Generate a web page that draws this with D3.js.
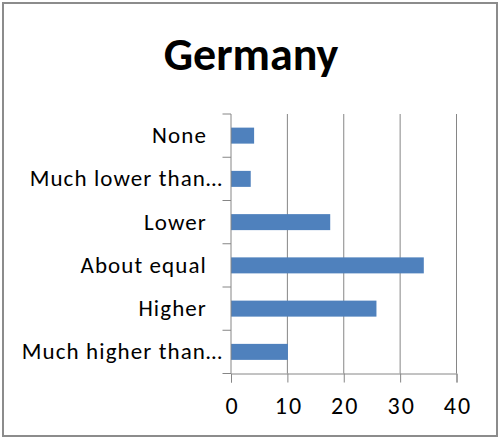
<!DOCTYPE html>
<html><head><meta charset="utf-8">
<script src="https://cdn.jsdelivr.net/npm/d3@7"></script>
<style>body{margin:0;background:#fff}</style>
</head><body>
<svg id="c" width="500" height="439"></svg>
<script>
const title = "Germany";
const categories = ["None", "Much lower than…", "Lower", "About equal", "Higher", "Much higher than…"];
const values = [4.1, 3.5, 17.6, 34.2, 25.8, 10.1];
const xTicks = [0, 10, 20, 30, 40];

const svg = d3.select("#c");
const font = "Carlito, Calibri, Lato, 'Liberation Sans', sans-serif";
const m = {left: 231, right: 456.5, top: 114, bottom: 373.5};

svg.append("rect").attr("x", 3).attr("y", 3).attr("width", 494).attr("height", 433)
  .attr("fill", "#fff").attr("stroke", "#8c8c8c").attr("stroke-width", 2);

svg.append("text").attr("x", 251).attr("y", 70).attr("text-anchor", "middle")
  .attr("font-family", font).attr("font-weight", "bold").attr("font-size", 46)
  .attr("fill", "#000").text(title);

const x = d3.scaleLinear().domain([0, 40]).range([m.left, m.right]);
const y = d3.scaleBand().domain(categories).range([m.top, m.bottom]).paddingInner(0.63).paddingOuter(0.315);
const yb = d3.scaleBand().domain(categories).range([m.top, m.bottom]);

// gridlines
svg.append("g").selectAll("line").data(xTicks.slice(1)).join("line")
  .attr("x1", d => x(d)).attr("x2", d => x(d)).attr("y1", m.top).attr("y2", m.bottom)
  .attr("stroke", "#868686").attr("stroke-width", 1);

// bars
svg.append("g").selectAll("rect").data(values).join("rect")
  .attr("x", x(0)).attr("y", (d, i) => y(categories[i]))
  .attr("width", d => x(d) - x(0)).attr("height", y.bandwidth())
  .attr("fill", "#4f81bd");

// bottom axis
const xa = svg.append("g").attr("transform", `translate(0,${m.bottom})`)
  .call(d3.axisBottom(x).tickValues(xTicks).tickSize(9).tickPadding(14));
xa.select(".domain").attr("stroke", "#868686");
xa.selectAll(".tick line").attr("stroke", "#868686");
xa.selectAll("text").attr("font-family", font).attr("font-size", 24).attr("fill", "#000")
  .attr("letter-spacing", "2px").attr("dx", "1px");

// left axis line and ticks at band boundaries
const bounds = categories.map(c => yb(c)).concat([m.bottom]);
svg.append("line").attr("x1", m.left).attr("x2", m.left).attr("y1", m.top).attr("y2", m.bottom)
  .attr("stroke", "#868686");
svg.append("g").selectAll("line").data(bounds).join("line")
  .attr("x1", m.left - 8.5).attr("x2", m.left).attr("y1", d => d).attr("y2", d => d)
  .attr("stroke", "#868686");

// category labels
svg.append("g").selectAll("text").data(categories).join("text")
  .attr("x", d => d.endsWith("…") ? 223 : 207)
  .attr("y", d => yb(d) + yb.bandwidth() / 2)
  .attr("dy", "0.33em").attr("text-anchor", "end")
  .attr("font-family", font).attr("font-size", 23).attr("fill", "#000")
  .attr("letter-spacing", "1.1px")
  .text(d => d);
</script>
</body></html>
